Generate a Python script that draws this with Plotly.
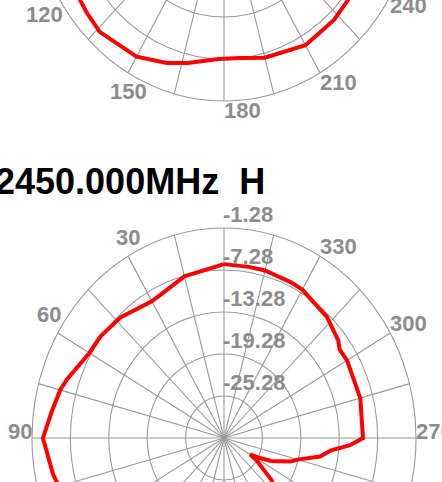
import numpy as np
import plotly.graph_objects as go

# ---------------- data ----------------
title_text = "2450.000MHz\u00a0\u00a0H"

# lower chart (2450.000MHz H): angle in degrees (0 at top, counter-clockwise), gain in dB
h_angle = [0, 9, 15, 23, 30, 43, 53, 60, 71, 75, 82, 90, 101, 105, 120, 150, 180, 210,
           225, 231, 238, 240, 243, 246, 252, 255, 260, 264, 267, 270, 285, 300, 305,
           308, 317, 330, 335, 345, 351, 360]
h_gain = [-6.44, -7.13, -7.37, -8.33, -8.72, -7.67, -7.13, -6.98, -5.39, -4.79, -4.10,
          -2.99, -4.07, -4.58, -6.68, -10.88, -13.88, -16.88, -19.88, -21.68, -25.28,
          -26.57, -24.98, -23.24, -20.42, -19.34, -16.04, -14.45, -11.57, -9.56, -9.23,
          -9.08, -9.23, -8.63, -7.67, -6.80, -6.71, -6.50, -6.53, -6.44]

# upper chart (only its lower part is visible)
u_angle = [112, 125, 129, 136, 150, 160, 167, 178, 186, 195, 210, 223, 231, 245]
u_gain = [-4.28, -3.92, -3.68, -3.32, -3.95, -5.12, -6.05, -7.28, -7.28, -6.62, -5.84,
          -6.08, -6.41, -6.68]

radial_ticks = [-1.28, -7.28, -13.28, -19.28, -25.28]
radial_min = -31.28
angle_ticks = [30, 60, 90, 120, 150, 180, 210, 240, 270, 300, 330]
spoke_step = 15

# ---------------- geometry / style ----------------
CX = 224
LOWER_CY = 438
UPPER_CY = -109
RX, RY = 192, 210
W, H = 442, 482
GRID = "#9a9a9a"
LABEL = "#8c8c8c"
FONT = "Liberation Sans, Arial, sans-serif"
LSIZE = 22
radial_max = max(radial_ticks)


def rho(g):
    return (np.asarray(g, float) - radial_min) / (radial_max - radial_min)


def to_xy(angle, gain, cy):
    t = np.radians(np.asarray(angle, float))
    r = rho(gain)
    return CX - r * RX * np.sin(t), cy - r * RY * np.cos(t)


fig = go.Figure()
shapes = []
for cy in (LOWER_CY, UPPER_CY):
    for tv in radial_ticks:
        r = rho(tv)
        shapes.append(dict(type="circle", xref="x", yref="y", x0=CX - r * RX, x1=CX + r * RX,
                           y0=cy - r * RY, y1=cy + r * RY, line=dict(color=GRID, width=1.1),
                           layer="below"))
    for a in range(0, 360, spoke_step):
        x1, y1 = to_xy([a], [radial_max], cy)
        shapes.append(dict(type="line", xref="x", yref="y", x0=CX, y0=cy, x1=x1[0], y1=y1[0],
                           line=dict(color=GRID, width=1.1), layer="below"))

annotations = []
lab_font = dict(family=FONT, size=LSIZE, color=LABEL, weight="bold")
cap_h = 18


def angle_label_center(a, text, cy):
    px, py = to_xy([a], [radial_max], cy)
    s, c = np.sin(np.radians(a)), np.cos(np.radians(a))
    w = 0.556 * LSIZE * len(text)
    hx = w * (0.5 - max(s, 0.0))
    gap = 9.5 if s > 0.1 else 0.5
    if c > 0.1:
        vy = -(cap_h / 2 + gap)
    elif c < -0.1:
        vy = cap_h / 2 + gap
    else:
        vy = -7
    return px[0] + hx, py[0] + vy


for cy in (LOWER_CY, UPPER_CY):
    for a in angle_ticks:
        lx, ly = angle_label_center(a, str(a), cy)
        annotations.append(dict(text=str(a), x=lx, y=ly, xref="x", yref="y", xanchor="center",
                                yanchor="middle", showarrow=False, font=lab_font))

# radial tick labels on the lower chart (just above each ring, right of the 0-degree axis)
rx_, ry_ = to_xy([0] * len(radial_ticks), radial_ticks, LOWER_CY)
for v, x, y in zip(radial_ticks, rx_, ry_):
    annotations.append(dict(text=f"{v:.2f}", x=x - 3, y=y - 14, xref="x", yref="y",
                            xanchor="left", yanchor="middle", showarrow=False, font=lab_font))

annotations.append(dict(text=title_text, xref="paper", yref="paper", x=-7 / W, y=1 - 181 / H,
                        xanchor="left", yanchor="middle", showarrow=False,
                        font=dict(family=FONT, size=36, color="black", weight="bold")))

# pattern curves
for ang, gain, cy in ((u_angle, u_gain, UPPER_CY), (h_angle, h_gain, LOWER_CY)):
    x, y = to_xy(ang, gain, cy)
    fig.add_trace(go.Scatter(x=x, y=y, mode="lines", line=dict(color="#ff0000", width=4),
                             hoverinfo="skip", showlegend=False))

fig.update_layout(
    width=W, height=H, margin=dict(l=0, r=0, t=0, b=0),
    paper_bgcolor="white", plot_bgcolor="white", shapes=shapes, annotations=annotations,
    xaxis=dict(range=[0, W], visible=False, fixedrange=True),
    yaxis=dict(range=[H, 0], visible=False, fixedrange=True),
)

fig.write_html("out.html", config={"displayModeBar": False},
               post_script="document.body.style.margin='0';")
